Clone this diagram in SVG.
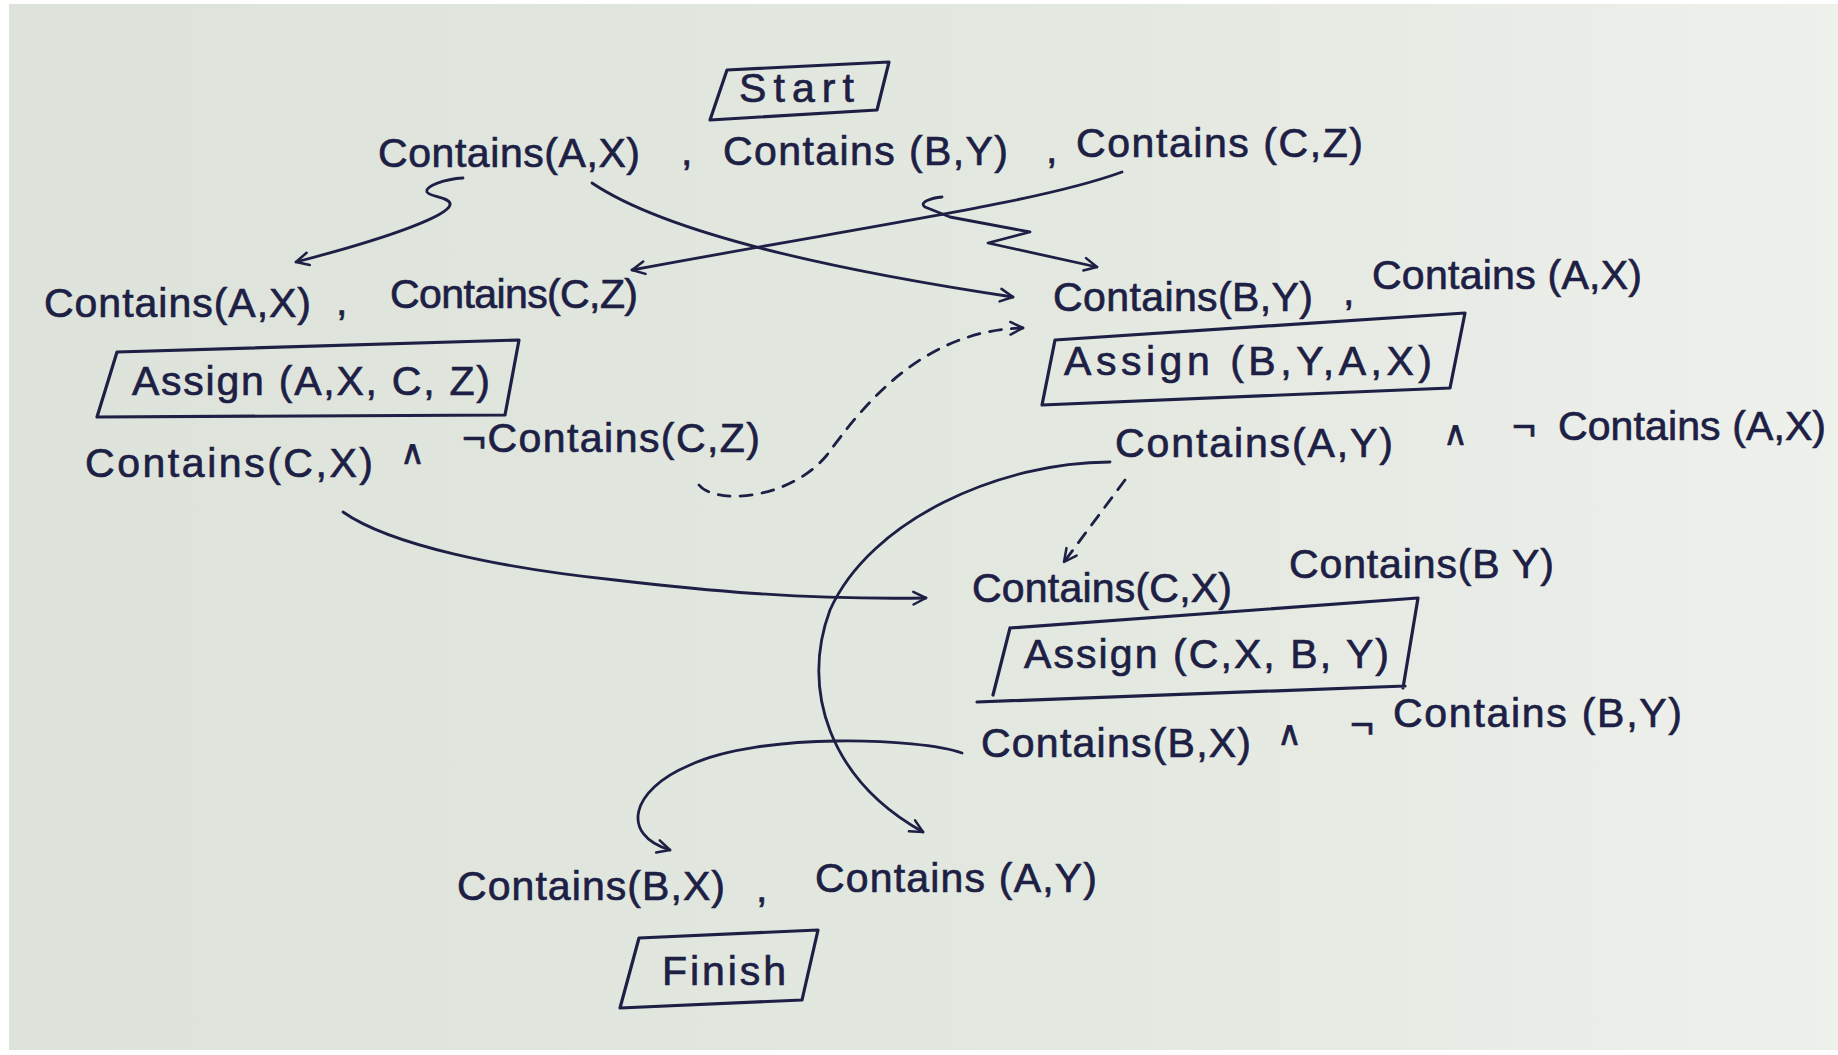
<svg xmlns="http://www.w3.org/2000/svg" width="1838" height="1055" viewBox="0 0 1838 1055">
  <defs>
    <linearGradient id="paper" x1="0" y1="0" x2="1" y2="0">
      <stop offset="0" stop-color="#dde3da"/>
      <stop offset="0.6" stop-color="#e3e8e0"/>
      <stop offset="1" stop-color="#eef0ec"/>
    </linearGradient>
    <marker id="arr" viewBox="0 0 20 20" refX="17" refY="10" markerWidth="18" markerHeight="18" markerUnits="userSpaceOnUse" orient="auto">
      <path d="M3,3 L17,10 L3,17" fill="none" stroke="#1e1f45" stroke-width="2.8" stroke-linecap="round" stroke-linejoin="round"/>
    </marker>
  </defs>
  <style>
    .t { font-family: "Liberation Sans", "DejaVu Sans", sans-serif; font-size: 41px; fill: #1e1f45; stroke: #1e1f45; stroke-width: 0.7; }
    .sym { font-family: "DejaVu Sans", "Liberation Sans", sans-serif; font-size: 34px; fill: #1e1f45; stroke: #1e1f45; stroke-width: 0.7; }
    .box { fill: none; stroke: #1e1f45; stroke-width: 3.2; stroke-linejoin: round; stroke-linecap: round; }
    .c { fill: none; stroke: #1e1f45; stroke-width: 2.8; stroke-linecap: round; stroke-linejoin: round; }
    .d { stroke-dasharray: 12 10; }
  </style>
  <rect x="0" y="0" width="1838" height="1055" fill="#ffffff"/>
  <rect x="9" y="4" width="1829" height="1046" fill="url(#paper)"/>

  <g id="start">
    <polygon class="box" points="727,70 889,62 877,110 710,120"/>
    <text class="t" x="739" y="102" textLength="115" font-size="42">Start</text>
  </g>

  <g id="start-effects">
    <text class="t" x="378" y="167" textLength="262">Contains(A,X)</text>
    <text class="t" x="681" y="165">,</text>
    <text class="t" x="723" y="165" textLength="285">Contains (B,Y)</text>
    <text class="t" x="1046" y="163">,</text>
    <text class="t" x="1076" y="157" textLength="287">Contains (C,Z)</text>
  </g>

  <g id="assign1-pre">
    <text class="t" x="44" y="317" textLength="267">Contains(A,X)</text>
    <text class="t" x="336" y="315">,</text>
    <text class="t" x="390" y="308" textLength="248">Contains(C,Z)</text>
  </g>

  <g id="assign1">
    <polygon class="box" points="117,352 519,340 505,415 97,417"/>
    <text class="t" x="132" y="395" textLength="358">Assign (A,X, C, Z)</text>
  </g>

  <g id="assign1-eff">
    <text class="t" x="85" y="477" textLength="288">Contains(C,X)</text>
    <text class="sym" x="400" y="464">∧</text>
    <text class="t" x="462" y="452" textLength="298">¬Contains(C,Z)</text>
  </g>

  <g id="assign2-pre">
    <text class="t" x="1053" y="311" textLength="260">Contains(B,Y)</text>
    <text class="t" x="1343" y="305">,</text>
    <text class="t" x="1372" y="289" textLength="270">Contains (A,X)</text>
  </g>

  <g id="assign2">
    <polygon class="box" points="1055,340 1465,313 1450,388 1042,405"/>
    <text class="t" x="1064" y="375" textLength="368">Assign (B,Y,A,X)</text>
  </g>

  <g id="assign2-eff">
    <text class="t" x="1115" y="457" textLength="278">Contains(A,Y)</text>
    <text class="sym" x="1443" y="445">∧</text>
    <text class="t" x="1512" y="440">¬</text>
    <text class="t" x="1558" y="440" textLength="268">Contains (A,X)</text>
  </g>

  <g id="assign3-pre">
    <text class="t" x="972" y="602" textLength="260">Contains(C,X)</text>
    <text class="t" x="1289" y="578" textLength="265">Contains(B Y)</text>
  </g>

  <g id="assign3">
    <path class="box" d="M1010,628 L1418,598 L1403,688 M977,702 L1405,686 M1010,628 L993,695"/>
    <text class="t" x="1024" y="668" textLength="365">Assign (C,X, B, Y)</text>
  </g>

  <g id="assign3-eff">
    <text class="t" x="981" y="757" textLength="270">Contains(B,X)</text>
    <text class="sym" x="1277" y="745">∧</text>
    <text class="t" x="1350" y="738">¬</text>
    <text class="t" x="1393" y="727" textLength="289">Contains (B,Y)</text>
  </g>

  <g id="finish-pre">
    <text class="t" x="457" y="900" textLength="268">Contains(B,X)</text>
    <text class="t" x="756" y="902">,</text>
    <text class="t" x="815" y="892" textLength="282">Contains (A,Y)</text>
  </g>

  <g id="finish">
    <polygon class="box" points="639,938 818,930 802,1000 620,1008"/>
    <text class="t" x="662" y="985" textLength="124" font-size="42">Finish</text>
  </g>

  <g id="connectors">
    <path class="c" marker-end="url(#arr)" d="M463,178 C445,179 425,186 427,192 C429,197 452,197 450,205 C447,215 400,235 296,262"/>
    <path class="c" marker-end="url(#arr)" d="M592,183 C650,222 780,262 1013,297"/>
    <path class="c" marker-end="url(#arr)" d="M1122,172 C1040,202 880,224 632,270"/>
    <path class="c" marker-end="url(#arr)" d="M942,197 C932,198 918,202 925,207 L950,217 L1030,232 L988,243 L1097,267"/>
    <path class="c d" marker-end="url(#arr)" d="M699,485 C715,505 790,500 827,455 C860,410 920,330 1023,328"/>
    <path class="c" marker-end="url(#arr)" d="M343,512 C390,545 500,568 615,580 C700,590 800,600 926,598"/>
    <path class="c" marker-end="url(#arr)" d="M1110,462 C1000,462 870,520 830,610 C800,690 830,780 923,832"/>
    <path class="c d" marker-end="url(#arr)" d="M1125,480 L1064,562"/>
    <path class="c" marker-end="url(#arr)" d="M962,753 C920,738 760,732 690,765 C630,790 620,835 670,850"/>
  </g>
</svg>
